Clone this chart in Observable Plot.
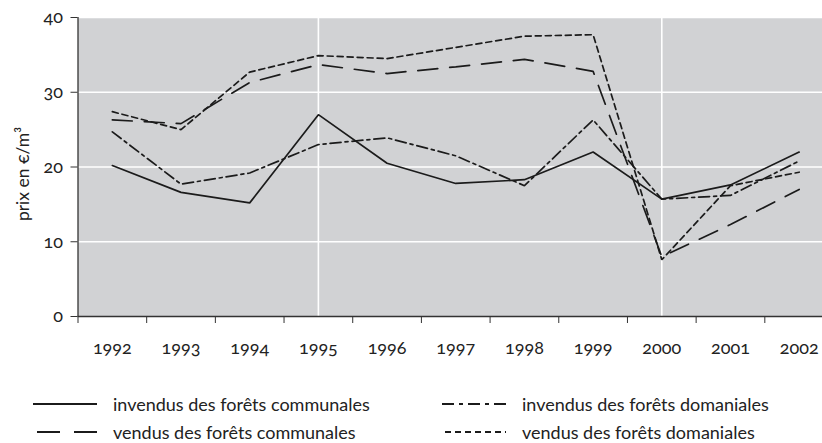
<!DOCTYPE html>
<html>
<head>
<meta charset="utf-8">
<script src="https://cdn.jsdelivr.net/npm/d3@7"></script>
<script src="https://cdn.jsdelivr.net/npm/@observablehq/plot@0.6"></script>
<style>
  html, body { margin: 0; padding: 0; background: #fff; }
  body { width: 822px; height: 443px; overflow: hidden; font-family: Lato, "Noto Sans", sans-serif; font-variant-numeric: oldstyle-nums; font-feature-settings: "onum" 1; color: #222; }
  #chart svg { display: block; font-variant-numeric: oldstyle-nums; font-feature-settings: "onum" 1; }
  .legend { position: relative; height: 71px; font-size: 18px; }
  .item { position: absolute; display: flex; align-items: center; white-space: nowrap; }
  .item svg { display: block; margin-right: 16px; }
</style>
</head>
<body>
<div id="chart"></div>
<div class="legend" id="legend"></div>
<script>
const years = [1992, 1993, 1994, 1995, 1996, 1997, 1998, 1999, 2000, 2001, 2002];
const invendusCommunales = [20.2, 16.6, 15.2, 27.0, 20.5, 17.8, 18.3, 22.0, 15.7, 17.6, 22.0];
const invendusDomaniales = [24.7, 17.7, 19.2, 23.0, 23.9, 21.5, 17.5, 26.3, 15.7, 16.2, 20.8];
const vendusCommunales = [26.3, 25.8, 31.3, 33.7, 32.5, 33.4, 34.4, 32.8, 8.0, 12.3, 17.0];
const vendusDomaniales = [27.4, 25.0, 32.7, 34.9, 34.5, 36.0, 37.5, 37.7, 7.6, 17.5, 19.3];
const seriesNames = [
  "invendus des forêts communales",
  "invendus des forêts domaniales",
  "vendus des forêts communales",
  "vendus des forêts domaniales"
];
const yTicks = [0, 10, 20, 30, 40];
const yLabel = "prix en €/m³";
const highlightYears = [1995, 2000];

const allSeries = [invendusCommunales, invendusDomaniales, vendusCommunales, vendusDomaniales];
const dashes = ["none", "11,4,3,4", "20,12", "6,4"];
const legendDashes = ["none", "12,5,4,5", "23,14", "6,4"];
const legendStart = [0, 0, 4, 3];

const rows = [];
allSeries.forEach((vals, s) => vals.forEach((v, i) => rows.push({year: years[i], value: v, series: seriesNames[s]})));
const bounds = years.map(y => y - 0.5).concat([years[years.length - 1] + 0.5]);

const ink = "#1b1b1b";
const font = "Lato, 'Noto Sans', sans-serif";
const plot = Plot.plot({
  width: 822,
  height: 372,
  marginLeft: 77.5,
  marginRight: 0,
  marginTop: 17,
  marginBottom: 56,
  style: {fontFamily: font, fontSize: "18px", color: "#222", background: "#fff"},
  x: {type: "linear", domain: [years[0] - 0.5, years[years.length - 1] + 0.5], range: [77.5, 833]},
  y: {domain: [0, 40]},
  marks: [
    Plot.frame({fill: "#d1d2d4", stroke: null}),
    Plot.ruleY(yTicks.filter(d => d > 0), {stroke: "#fff", strokeWidth: 1.6}),
    Plot.ruleX(highlightYears, {stroke: "#fff", strokeWidth: 1.6}),
    ...seriesNames.map((name, s) =>
      Plot.line(rows.filter(r => r.series === name), {
        x: "year", y: "value", stroke: ink, strokeWidth: 1.7,
        strokeDasharray: dashes[s], strokeLinejoin: "miter"
      })
    ),
    Plot.ruleX([years[0] - 0.5], {stroke: "#333", strokeWidth: 1.3}),
    Plot.ruleY([0], {stroke: "#333", strokeWidth: 1.3}),
    Plot.axisY({ticks: yTicks, tickSize: 7, tickPadding: 8, stroke: "#333", label: null, fontSize: 18, tickFormat: d => String(d)}),
    Plot.axisX({ticks: bounds, tickSize: 7, tickFormat: () => "", stroke: "#333", label: null}),
    Plot.axisX({ticks: years, tickSize: 0, tickPadding: 25, fontSize: 18, tickFormat: d => String(d), label: null}),
    Plot.text([yLabel], {frameAnchor: "left", dx: -55, dy: 7, rotate: -90, textAnchor: "middle", text: d => d, fontSize: 17.5})
  ]
});
document.getElementById("chart").appendChild(plot);

// Legend
const legend = document.getElementById("legend");
const positions = [[33, 404], [442, 404], [33, 432], [442, 432]];
seriesNames.forEach((name, s) => {
  const item = document.createElement("div");
  item.className = "item";
  item.style.left = positions[s][0] + "px";
  item.style.top = (positions[s][1] - 372 - 10) + "px";
  item.style.height = "20px";
  const sw = d3.create("svg").attr("width", 64).attr("height", 20);
  sw.append("line").attr("x1", legendStart[s]).attr("x2", 64).attr("y1", 10).attr("y2", 10)
    .attr("stroke", ink).attr("stroke-width", 1.8)
    .attr("stroke-dasharray", legendDashes[s]);
  item.appendChild(sw.node());
  const t = document.createElement("span");
  t.textContent = name;
  item.appendChild(t);
  legend.appendChild(item);
});
</script>
</body>
</html>
